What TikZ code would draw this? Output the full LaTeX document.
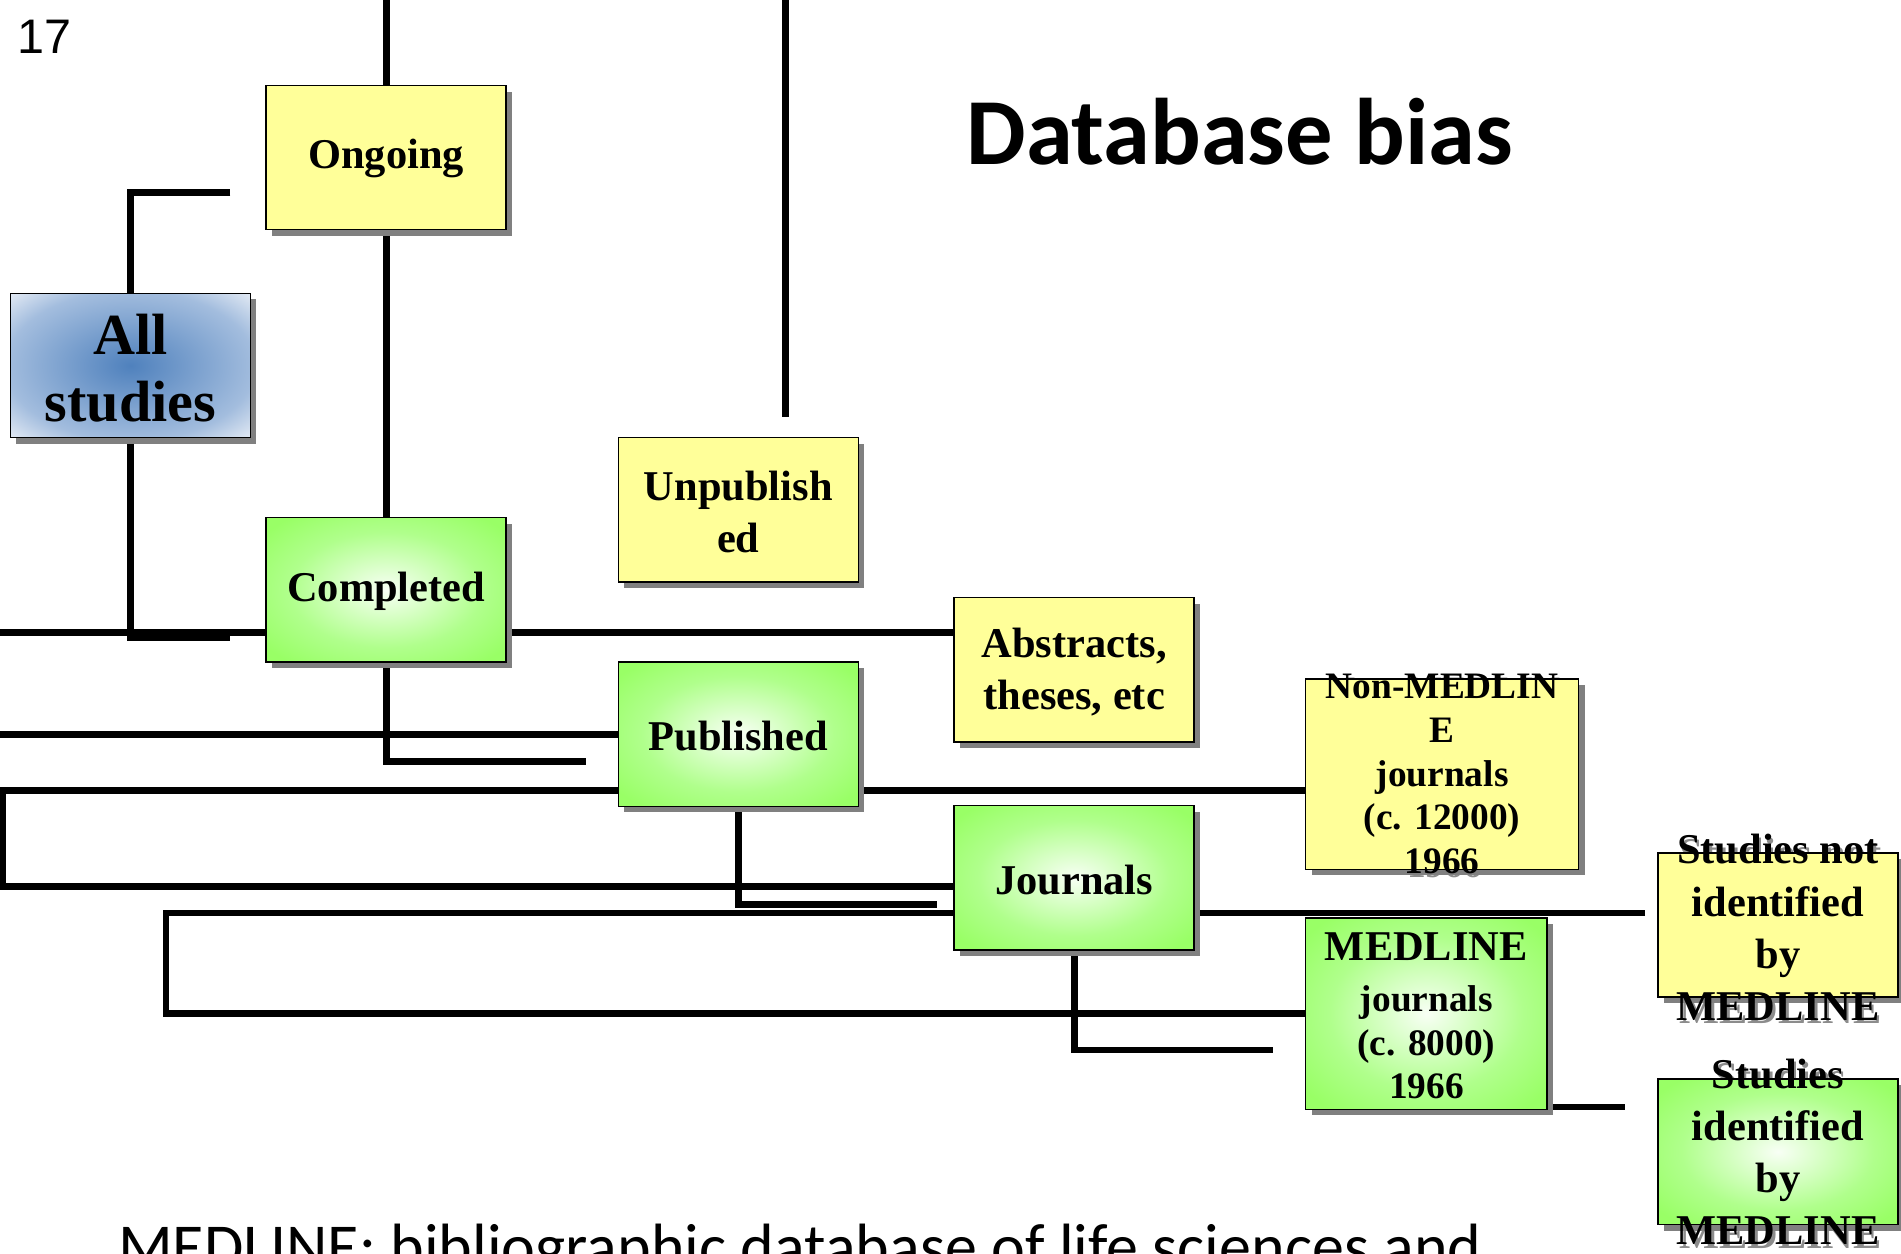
\documentclass[tikz,border=0pt]{standalone}
\usepackage{fontspec}
\setmainfont{Liberation Serif}
\newfontfamily\arialfont{Liberation Sans}
\newfontfamily\calibrifont{Carlito}
\usetikzlibrary{shadows,backgrounds}
\definecolor{boxyellow}{HTML}{FFFF99}
\definecolor{boxgreen}{HTML}{99FF66}
\definecolor{greenmid}{HTML}{B0FF8C}
\definecolor{greeninner}{HTML}{F8FFF5}
\definecolor{blueinner}{HTML}{4F81BD}
\definecolor{bluemid}{HTML}{A3BDDE}
\definecolor{blueouter}{HTML}{E0E8F3}
\definecolor{shadowgray}{HTML}{808080}
\definecolor{txtshadow}{HTML}{8C8C8C}
\pgfdeclareradialshading{greenrad}{\pgfpoint{0bp}{0bp}}{color(0bp)=(greeninner); color(20bp)=(greenmid); color(32bp)=(boxgreen); color(50bp)=(boxgreen)}
\pgfdeclareradialshading{bluerad}{\pgfpoint{0bp}{0bp}}{color(0bp)=(blueinner); color(26bp)=(bluemid); color(35bp)=(blueouter); color(50bp)=(blueouter)}
\tikzset{
  box/.style={draw=black, line width=0.6pt, inner sep=0pt, minimum width=99pt, minimum height=59.5pt,
    drop shadow={shadow xshift=2.5pt, shadow yshift=-2.5pt, fill=shadowgray, opacity=1}},
  yellowbox/.style={box, fill=boxyellow},
  greenbox/.style={box, shading=greenrad},
  bluebox/.style={box, shading=bluerad},
  lbl/.style={inner sep=0pt, align=center, font=\fontsize{17.5}{21.5}\selectfont\bfseries},
  smalllbl/.style={inner sep=0pt, align=center, font=\fontsize{15.4}{18}\selectfont\bfseries},
  shadowtxt/.style={text=txtshadow, xshift=1pt, yshift=-1.5pt},
  link/.style={line width=2.8pt, line join=miter},
}
\begin{document}
\begin{tikzpicture}[x=0.5pt, y=-0.5pt]
\useasboundingbox (0,0) rectangle (1568,1034);

% text shadows (visible only outside the boxes)
\node[smalllbl, shadowtxt] (nonmed-sh) at (1189.5,638.5) {Non-MEDLIN\\E\\journals\\(c. 12000)\\1966};
\node[lbl, shadowtxt] (notid-sh) at (1466.5,765) {Studies not\\identified\\by\\MEDLINE};
\node[lbl, shadowtxt] (id-sh) at (1466.5,950) {Studies\\identified\\by\\MEDLINE};

% boxes
\node[bluebox] (all) at (107.5,301.5) {};
\node[yellowbox] (ong) at (318.5,130) {};
\node[greenbox] (comp) at (318.5,486.5) {};
\node[yellowbox] (unp) at (609,420.5) {};
\node[greenbox] (pub) at (609,605.5) {};
\node[yellowbox] (abs) at (886,552.5) {};
\node[greenbox] (jour) at (886,724) {};
\node[yellowbox, minimum width=112.5pt, minimum height=78.5pt] (nonmed) at (1189.5,638.5) {};
\node[greenbox, minimum width=99.5pt, minimum height=79pt] (med) at (1176.5,836) {};
\node[yellowbox] (notid) at (1466.5,763) {};
\node[greenbox, minimum height=60pt] (id) at (1466.5,950) {};

% box texts
\node[lbl, font=\fontsize{24}{27.5}\selectfont\bfseries] (all-t) at (107.5,303.5) {All\\studies};
\node[lbl] (ong-t) at (318.5,131) {Ongoing};
\node[lbl] (comp-t) at (318.5,488) {Completed};
\node[lbl] (unp-t) at (609,422) {Unpublish\\ed};
\node[lbl] (pub-t) at (609,607) {Published};
\node[lbl] (abs-t) at (886,554.5) {Abstracts,\\theses, etc};
\node[lbl] (jour-t) at (886,726) {Journals};
\node[smalllbl] (nonmed-t) at (1189.5,638.5) {Non-MEDLIN\\E\\journals\\(c. 12000)\\1966};
\node[smalllbl] (med-t) at (1176.5,838) {{\fontsize{17.5}{21}\selectfont MEDLINE}\\[3pt]journals\\(c. 8000)\\1966};
\node[lbl] (notid-t) at (1466.5,765) {Studies not\\identified\\by\\MEDLINE};
\node[lbl] (id-t) at (1466.5,950) {Studies\\identified\\by\\MEDLINE};

% other texts
\node[inner sep=0pt, font=\arialfont\fontsize{20}{24}\selectfont] (num) at (37,30) {17};
\node[inner sep=0pt, font=\calibrifont\bfseries\fontsize{39}{47}\selectfont] (title) at (1022.5,108.5) {Database bias};
\node[inner sep=0pt, anchor=base west, font=\calibrifont\fontsize{26.4}{31}\selectfont] (note) at (97,1046) {MEDLINE: bibliographic database of life sciences and};

% connectors
\begin{scope}[on background layer]
\fill[white] (0,0) rectangle (1568,1034);
\coordinate (t1) at (319,0);
\coordinate (t3a) at (648,0);
\coordinate (t3b) at (648,344);
\coordinate (c4) at (190,159);
\coordinate (c5) at (190,526);
\coordinate (c6) at (0,522);
\coordinate (c7) at (483,628);
\coordinate (c8) at (0,605.5);
\coordinate (c9a) at (2.5,652);
\coordinate (c9b) at (2.5,731);
\coordinate (c10) at (773,746);
\coordinate (c11a) at (1357,753);
\coordinate (c11b) at (137,753);
\coordinate (c12) at (1050,866);
\coordinate (c13) at (1340,913);
\draw[link] (ong.north |- t1) -- (ong.north);
\draw[link] (ong.south) -- (comp.north);
\draw[link] (t3a) -- (t3b);
\draw[link] (c4) -| (all.north);
\draw[link] (all.south) |- (c5);
\draw[link] (c6) -- (c6 -| abs.west);
\draw[link] (comp.south) |- (c7);
\draw[link] (c8) -- (pub.west);
\draw[link] (c9a -| nonmed.west) -- (c9a) -- (c9b) -- (c9b -| jour.west);
\draw[link] (pub.south) |- (c10);
\draw[link] (c11a) -- (c11b) |- (med.west);
\draw[link] (jour.south) |- (c12);
\draw[link] (c13 -| med.east) -- (c13);
\end{scope}
\end{tikzpicture}
\end{document}
